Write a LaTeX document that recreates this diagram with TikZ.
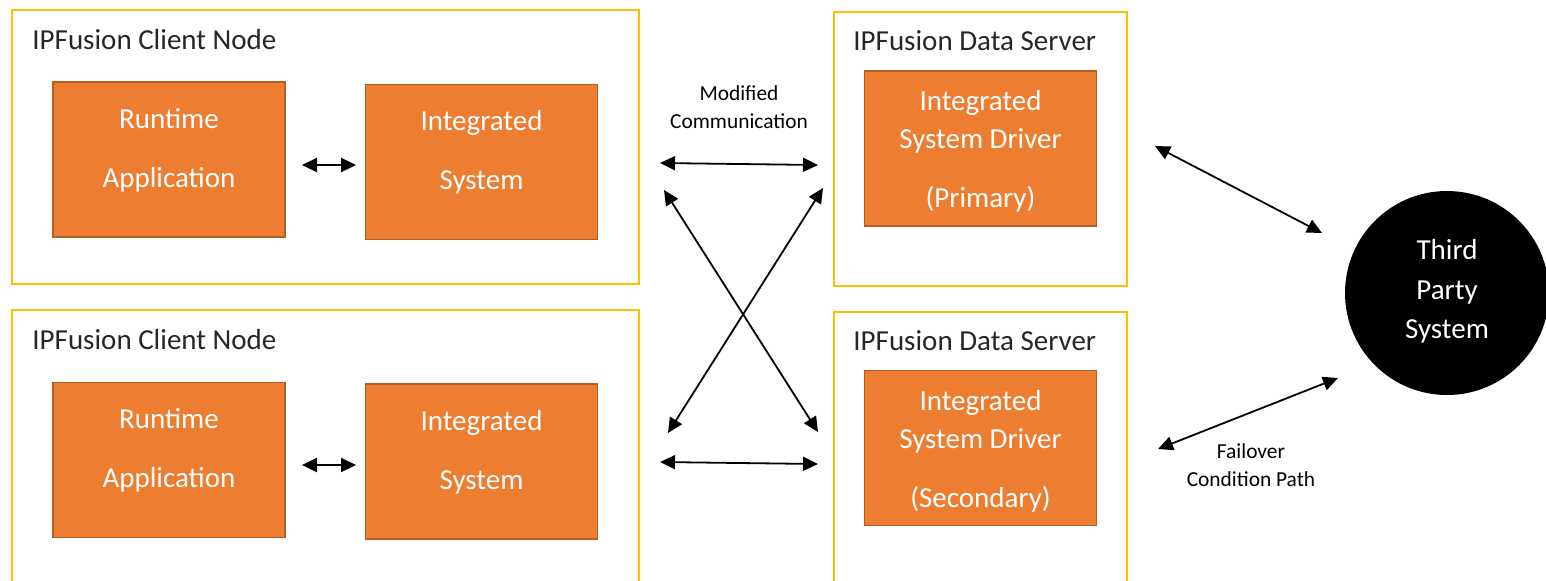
\documentclass[tikz,border=0pt]{standalone}
\usepackage{fontspec}
\setmainfont{Carlito}
\usetikzlibrary{arrows.meta}
\definecolor{gold}{HTML}{FFC000}
\definecolor{orng}{HTML}{ED7D31}
\definecolor{orngdk}{HTML}{B45E24}
\definecolor{hdr}{HTML}{262626}
\tikzset{
  container/.style={draw=gold, line width=1pt, anchor=north west, inner sep=0pt},
  obox/.style={draw=orngdk, fill=orng, line width=0.6pt, minimum width=116pt, minimum height=77.5pt, inner sep=0pt},
  otext/.style={text=white, align=center, inner sep=0pt},
  hdrtext/.style={text=hdr, font=\fontsize{14.5}{17}\selectfont, anchor=base west, inner sep=0pt},
  small/.style={text=black, align=center, font=\fontsize{10.7}{14}\selectfont, inner sep=0pt},
  link/.style={draw=black, line width=0.9pt, {Triangle[length=7.5pt,width=7pt]}-{Triangle[length=7.5pt,width=7pt]}},
}
\begin{document}
\begin{tikzpicture}[x=0.5pt,y=-0.5pt]
\useasboundingbox (0,0) rectangle (1546,580);
\clip (0,0) rectangle (1546,580);
\fill[white] (0,0) rectangle (1546,580);

% containers
\node[container, minimum width=313.5pt, minimum height=137pt] (c1) at (11,9) {};
\node[container, minimum width=313.5pt, minimum height=145.5pt] (c2) at (11,309) {};
\node[container, minimum width=146.5pt, minimum height=137pt] (s1) at (833,11) {};
\node[container, minimum width=146.5pt, minimum height=145pt] (s2) at (833,311) {};

\node[hdrtext] (h1) at (32,49) {IPFusion Client Node};
\node[hdrtext] (h2) at (32,349) {IPFusion Client Node};
\node[hdrtext] (h3) at (853,50) {IPFusion Data Server};
\node[hdrtext] (h4) at (853,350) {IPFusion Data Server};

% orange boxes
\node[obox] (rt1) at (169,159.5) {};
\node[obox] (is1) at (481.5,162) {};
\node[obox] (dr1) at (980.5,148.5) {};
\node[obox] (rt2) at (169,460) {};
\node[obox] (is2) at (481.5,461.5) {};
\node[obox] (dr2) at (980.5,448) {};

\node[otext, font=\fontsize{14.5}{29.5}\selectfont] (rt1t) at (169,150) {Runtime\\Application};
\node[otext, font=\fontsize{14.5}{29.5}\selectfont] (is1t) at (481.5,152.5) {Integrated\\System};
\node[otext, font=\fontsize{14.5}{19.2}\selectfont] (dr1t) at (980.5,151) {Integrated\\System Driver\\[10pt](Primary)};
\node[otext, font=\fontsize{14.5}{29.5}\selectfont] (rt2t) at (169,450) {Runtime\\Application};
\node[otext, font=\fontsize{14.5}{29.5}\selectfont] (is2t) at (481.5,452.5) {Integrated\\System};
\node[otext, font=\fontsize{14.5}{19.2}\selectfont] (dr2t) at (980.5,451) {Integrated\\System Driver\\[10pt](Secondary)};

% third party
\node[circle, fill=black, minimum size=102pt, inner sep=0pt] (tp) at (1447,293) {};
\node[otext, font=\fontsize{14.5}{19.75}\selectfont] (tpt) at (1447,291.5) {Third\\Party\\System};

% labels
\node[small] (lm) at (739,107.5) {Modified\\Communication};
\node[small] (lf) at (1251,465) {Failover\\Condition Path};

% arrow end points
\coordinate (a1l) at (302,165); \coordinate (a1r) at (356,165);
\coordinate (a2l) at (302,465); \coordinate (a2r) at (356,465);
\coordinate (m1l) at (660,163); \coordinate (m1r) at (818,165);
\coordinate (x1a) at (664,190); \coordinate (x1b) at (818,432);
\coordinate (x2a) at (823,188); \coordinate (x2b) at (668,433);
\coordinate (m2l) at (660,462); \coordinate (m2r) at (818,464);
\coordinate (t1a) at (1155,146); \coordinate (t1b) at (1322,233);
\coordinate (t2a) at (1158,449); \coordinate (t2b) at (1338,378);

\draw[link, line width=1.1pt] (a1l) -- (a1r);
\draw[link, line width=1.1pt] (a2l) -- (a2r);
\draw[link] (m1l) -- (m1r);
\draw[link] (x1a) -- (x1b);
\draw[link] (x2a) -- (x2b);
\draw[link] (m2l) -- (m2r);
\draw[link] (t1a) -- (t1b);
\draw[link] (t2a) -- (t2b);
\end{tikzpicture}
\end{document}
